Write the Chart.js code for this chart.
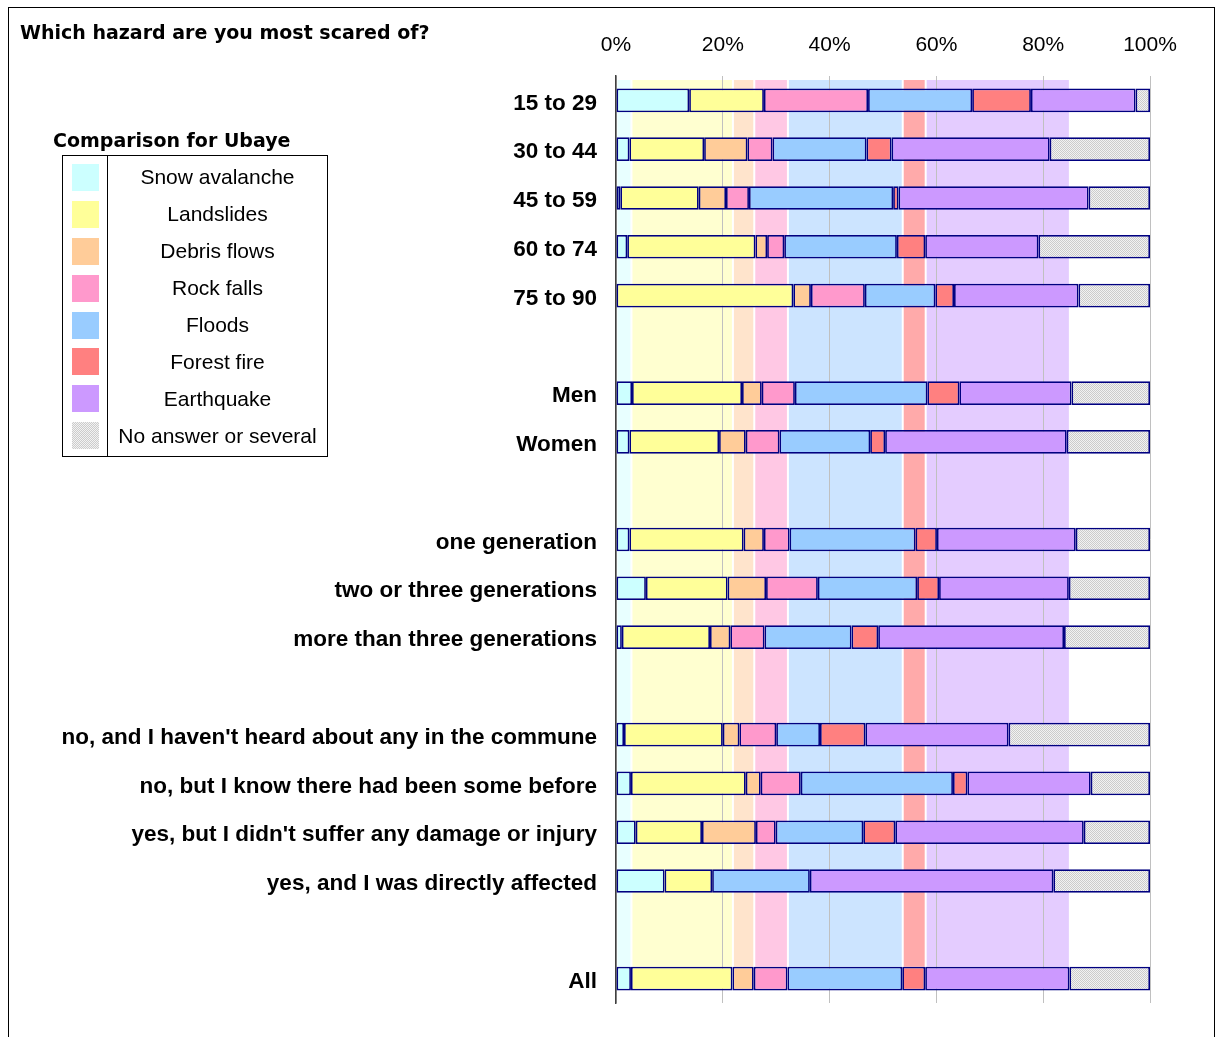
<!DOCTYPE html>
<html>
<head>
<meta charset="utf-8">
<script src="https://cdn.jsdelivr.net/npm/chart.js@4.4.1/dist/chart.umd.min.js"></script>
<style>
  html, body { margin:0; padding:0; background:#fff; width:1216px; height:1037px; overflow:hidden; }
  #c { position:absolute; left:0; top:0; }
  #frame { position:absolute; left:8px; top:7px; width:1207px; height:1100px; border:1px solid #000; box-sizing:border-box; pointer-events:none; }
  #title { position:absolute; left:20px; top:20px; font:bold 19px "DejaVu Sans"; line-height:24px; color:#000; white-space:nowrap; }
  #legTitle { position:absolute; left:53px; top:128px; font:bold 19px "DejaVu Sans"; line-height:24px; color:#000; white-space:nowrap; }
  #legend { position:absolute; left:62px; top:155px; width:266px; height:302px; border:1px solid #000; box-sizing:border-box; background:#fff; padding-top:3px; }
  #legend .div { position:absolute; left:44px; top:0; bottom:0; border-left:1px solid #000; }
  #legend .row { display:flex; align-items:center; height:36.9px; }
  #legend .sw { width:27px; height:27px; margin-left:9px; flex:none; }
  #legend .lab { position:absolute; left:45px; right:0; text-align:center; font:21px "Liberation Sans"; color:#000; white-space:nowrap; }
</style>
</head>
<body>
<canvas id="c" width="1216" height="1037"></canvas>
<div id="title">Which hazard are you most scared of?</div>
<div id="legTitle">Comparison for Ubaye</div>
<div id="legend"><div class="div"></div></div>
<div id="frame"></div>
<script>
// ---------- data ----------
const categories = [
  '15 to 29', '30 to 44', '45 to 59', '60 to 74', '75 to 90', '',
  'Men', 'Women', '',
  'one generation', 'two or three generations', 'more than three generations', '',
  "no, and I haven't heard about any in the commune",
  'no, but I know there had been some before',
  "yes, but I didn't suffer any damage or injury",
  'yes, and I was directly affected', '',
  'All'
];
const seriesNames = ['Snow avalanche', 'Landslides', 'Debris flows', 'Rock falls', 'Floods', 'Forest fire', 'Earthquake', 'No answer or several'];

const snowAvalanche = [13.7, 2.5, 0.8, 2.1, 0, null, 3.0, 2.5, null, 2.5, 5.6, 1.1, null, 1.5, 2.8, 3.7, 9.1, null, 2.8];
const landslides    = [14.0, 14.0, 14.7, 24.0, 33.2, null, 20.6, 16.8, null, 21.4, 15.3, 16.5, null, 18.5, 21.5, 12.4, 8.9, null, 19.0];
const debrisFlows   = [0, 8.1, 5.1, 2.2, 3.3, null, 3.7, 5.0, null, 3.8, 7.2, 3.8, null, 3.1, 2.8, 10.1, 0, null, 4.0];
const rockFalls     = [19.5, 4.7, 4.3, 3.2, 10.1, null, 6.2, 6.3, null, 4.8, 9.7, 6.4, null, 6.9, 7.5, 3.7, 0, null, 6.3];
const floods        = [19.5, 17.6, 27.0, 21.1, 13.2, null, 24.8, 17.0, null, 23.6, 18.6, 16.3, null, 8.2, 28.5, 16.4, 18.3, null, 21.5];
const forestFire    = [11.0, 4.7, 1.0, 5.3, 3.5, null, 6.0, 2.8, null, 4.0, 4.1, 5.0, null, 8.5, 2.7, 6.0, 0, null, 4.3];
const earthquake    = [19.6, 29.6, 35.6, 21.2, 23.3, null, 21.0, 34.0, null, 26.0, 24.3, 34.8, null, 26.8, 23.1, 35.3, 45.6, null, 27.0];
const noAnswer      = [2.7, 18.8, 11.5, 20.9, 13.4, null, 14.7, 15.6, null, 13.9, 15.2, 16.1, null, 26.5, 11.1, 12.4, 18.1, null, 15.1];

const xTickLabels = ['0%', '20%', '40%', '60%', '80%', '100%'];

const seriesData = [snowAvalanche, landslides, debrisFlows, rockFalls, floods, forestFire, earthquake, noAnswer];

// ---------- styles ----------
const ctx0 = document.getElementById('c').getContext('2d');
function checker(a, b) {
  const p = document.createElement('canvas'); p.width = 2; p.height = 2;
  const g = p.getContext('2d');
  g.fillStyle = a; g.fillRect(0, 0, 2, 2);
  g.fillStyle = b; g.fillRect(0, 0, 1, 1); g.fillRect(1, 1, 1, 1);
  return ctx0.createPattern(p, 'repeat');
}
const fillColors = ['#CCFFFF', '#FFFF99', '#FFCC99', '#FF99CC', '#99CCFF', '#FF8080', '#CC99FF', checker('#f2f2f2', '#cccccc')];
const bandColors = ['#E8FFFF', '#FFFFD0', '#FFE4CC', '#FFC8E4', '#CCE4FF', '#FFAAAA', '#E4CCFF', null];

// ---------- legend (HTML) ----------
const legend = document.getElementById('legend');
seriesNames.forEach((n, i) => {
  const row = document.createElement('div'); row.className = 'row';
  const sw = document.createElement('div'); sw.className = 'sw';
  if (i === 7) sw.style.background = 'repeating-conic-gradient(#cccccc 0 25%, #f2f2f2 0 50%) 0 0/2px 2px';
  else sw.style.background = fillColors[i];
  const lab = document.createElement('div'); lab.className = 'lab'; lab.textContent = n;
  row.appendChild(sw); row.appendChild(lab); legend.appendChild(row);
});

// ---------- background bands from the "All" row ----------
const bandPlugin = {
  id: 'allBands',
  beforeDraw(chart) {
    const { ctx, chartArea, scales: { x } } = chart;
    const allIdx = categories.indexOf('All');
    const el = chart.getDatasetMeta(0).data[allIdx];
    const top = chartArea.top + 4;
    const bottom = el.y - el.height / 2;
    let cum = 0;
    ctx.save();
    seriesData.forEach((arr, i) => {
      const v = arr[allIdx] || 0;
      const x0 = x.getPixelForValue(cum), x1 = x.getPixelForValue(cum + v);
      cum += v;
      if (!bandColors[i]) return;
      ctx.fillStyle = bandColors[i];
      ctx.fillRect(x0 + 1.5, top, Math.max(0, x1 - x0 - 2), bottom - top);
    });
    ctx.restore();
  }
};

new Chart(document.getElementById('c'), {
  type: 'bar',
  data: {
    labels: categories,
    datasets: seriesNames.map((n, i) => ({
      label: n,
      data: seriesData[i],
      backgroundColor: fillColors[i],
      borderColor: '#000080',
      borderWidth: 1.75,
      borderSkipped: false,
      inflateAmount: 0,
      categoryPercentage: 0.5,
      barPercentage: 0.97,
      stack: 's'
    }))
  },
  options: {
    indexAxis: 'y',
    responsive: false,
    devicePixelRatio: 1,
    animation: false,
    layout: { padding: { top: 0, left: 0, right: 66, bottom: 34 } },
    plugins: { legend: { display: false }, tooltip: { enabled: false }, title: { display: false } },
    scales: {
      x: {
        type: 'linear', position: 'top', min: 0, max: 100, stacked: true,
        ticks: { stepSize: 20, callback: (v, i) => xTickLabels[i], font: { family: 'Liberation Sans', size: 21 }, color: '#000', padding: 18, maxRotation: 0 },
        grid: { color: '#c0c0c0', lineWidth: 1, drawTicks: false },
        border: { display: false },
        afterFit(s) { s.height = 76; }
      },
      y: {
        type: 'category', stacked: true,
        grid: { display: false, drawTicks: false },
        border: { display: true, color: '#404040', width: 1.5 },
        ticks: { font: { family: 'Liberation Sans', size: 22.5, weight: 'bold' }, color: '#000', padding: 19, autoSkip: false, labelOffset: 3 },
        afterFit(s) { s.width = 616; }
      }
    }
  },
  plugins: [bandPlugin]
});
</script>
</body>
</html>
